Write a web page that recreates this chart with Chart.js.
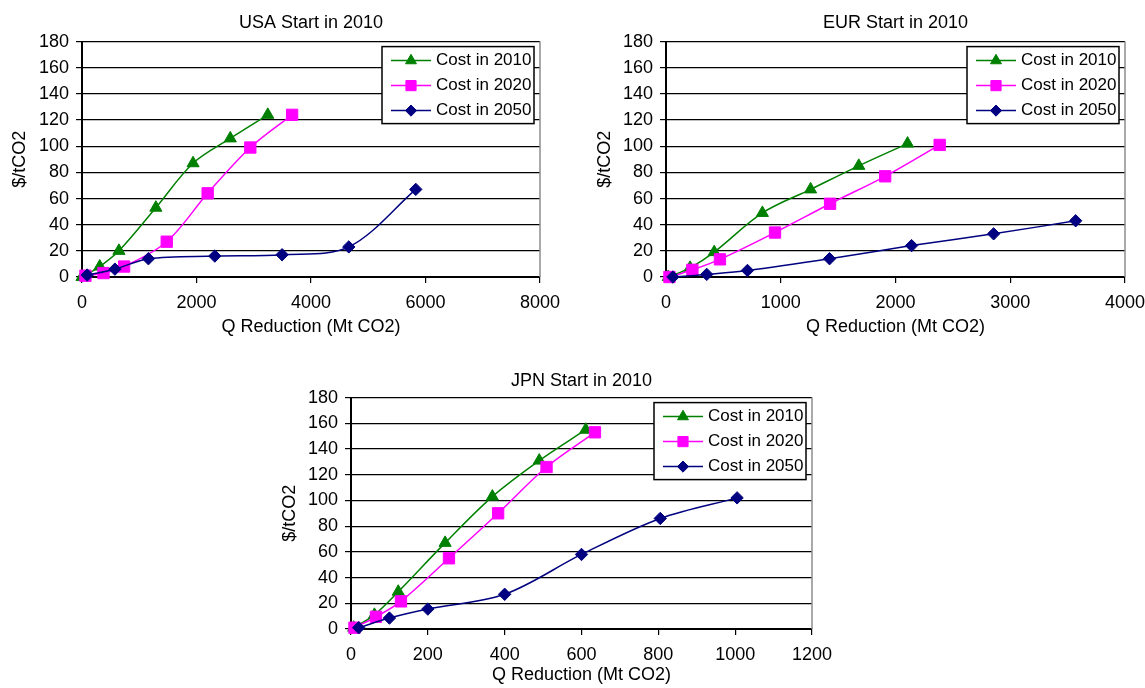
<!DOCTYPE html>
<html>
<head>
<meta charset="utf-8">
<script src="https://cdn.jsdelivr.net/npm/chart.js@4/dist/chart.umd.min.js"></script>
<style>
  html, body { margin: 0; padding: 0; background: #fff; overflow: hidden; }
  body { width: 1145px; height: 688px; position: relative; }
  canvas { position: absolute; }
</style>
</head>
<body>
<canvas id="usa" width="575" height="345" style="left:0px;top:0px"></canvas>
<canvas id="eur" width="575" height="345" style="left:585px;top:0px"></canvas>
<canvas id="jpn" width="577" height="331" style="left:270px;top:357px"></canvas>
<script>
// USA
const usaX2010 = [0, 310, 645, 1290, 1940, 2590, 3245];
const usaY2010 = [0, 8, 20, 53, 87, 106, 124];
const usaX2020 = [60, 375, 735, 1480, 2195, 2940, 3670];
const usaY2020 = [1, 3, 8, 27, 64, 99, 124];
const usaX2050 = [90, 575, 1160, 2320, 3495, 4660, 5830];
const usaY2050 = [1.5, 6, 14, 16, 17, 23, 67];

// EUR
const eurX2010 = [20, 210, 420, 840, 1260, 1680, 2105];
const eurY2010 = [0, 7, 19, 49, 67, 85, 102];
const eurX2020 = [30, 230, 470, 950, 1430, 1910, 2385];
const eurY2020 = [0, 5.5, 13.5, 34, 56, 77, 101];
const eurX2050 = [60, 355, 710, 1425, 2140, 2855, 3570];
const eurY2050 = [0, 2, 5, 14, 24, 33, 43];

// JPN
const jpnX2010 = [7, 61, 123, 245, 368, 490, 611];
const jpnY2010 = [1, 11, 29, 67, 103, 131, 155];
const jpnX2020 = [9, 65, 130, 255, 383, 509, 635];
const jpnY2020 = [1, 9.5, 21.5, 55, 90, 126, 153];
const jpnX2050 = [20, 100, 200, 400, 600, 805, 1005];
const jpnY2050 = [1, 8.5, 15.5, 27, 58, 86, 102];

const seriesNames = ['Cost in 2010', 'Cost in 2020', 'Cost in 2050'];
const yMax = 180, yStep = 20;

const FONT = "'Liberation Sans', Arial, sans-serif";

const pts = (xs, ys) => xs.map((x, i) => ({ x: x, y: ys[i] }));

// legend box drawn inside the plot area, Excel style
const boxLegend = {
  id: 'boxLegend',
  afterDatasetsDraw(chart) {
    const { ctx, chartArea: a } = chart;
    const w = 152, h = 77;
    const x0 = a.right - 6 - w, y0 = a.top + 5;
    ctx.save();
    ctx.fillStyle = '#fff';
    ctx.fillRect(x0, y0, w, h);
    ctx.strokeStyle = '#000';
    ctx.lineWidth = 1.5;
    ctx.strokeRect(x0, y0, w, h);
    chart.data.datasets.forEach((ds, i) => {
      const y = y0 + 14 + i * 25;
      ctx.strokeStyle = ds.borderColor;
      ctx.lineWidth = 1.5;
      ctx.beginPath();
      ctx.moveTo(x0 + 9, y);
      ctx.lineTo(x0 + 49, y);
      ctx.stroke();
      ctx.fillStyle = ds.backgroundColor;
      ctx.lineWidth = 1;
      Chart.helpers.drawPoint(ctx, { pointStyle: ds.pointStyle, radius: ds.pointRadius * 0.9, borderWidth: 1, rotation: 0 }, x0 + 29, y);
      ctx.fillStyle = '#000';
      ctx.font = '17px ' + FONT;
      ctx.textBaseline = 'middle';
      ctx.textAlign = 'left';
      ctx.fillText(ds.label, x0 + 54, y);
    });
    ctx.restore();
  }
};

// gray plot-area border on the right
const plotBorder = {
  id: 'plotBorder',
  beforeDatasetsDraw(chart) {
    const { ctx, chartArea: a } = chart;
    ctx.save();
    ctx.strokeStyle = '#8c8c8c';
    ctx.lineWidth = 1.5;
    ctx.beginPath();
    ctx.moveTo(a.right, a.top);
    ctx.lineTo(a.right, a.bottom);
    ctx.stroke();
    ctx.restore();
  }
};

function makeChart(id, title, xMax, xStep, s2010, s2020, s2050, lay) {
  const mk = (label, data, color, style, radius, order) => ({
    label: label,
    data: data,
    borderColor: color,
    backgroundColor: color,
    borderWidth: 1.5,
    pointStyle: style,
    pointRadius: radius,
    pointBorderWidth: 1,
    tension: 0.33,
    clip: false,
    order: order,
  });

  new Chart(document.getElementById(id), {
    type: 'line',
    data: {
      datasets: [
        mk(seriesNames[0], s2010, '#008000', 'triangle', 7, 3),
        mk(seriesNames[1], s2020, '#ff00ff', 'rect', 8, 2),
        mk(seriesNames[2], s2050, '#000080', 'rectRot', 6.2, 1),
      ],
    },
    options: {
      responsive: false,
      animation: false,
      layout: { padding: { left: 0, right: lay.right, top: 0, bottom: lay.bottom } },
      plugins: {
        legend: { display: false },
        tooltip: { enabled: false },
        title: {
          display: true,
          text: title,
          fullSize: false,
          color: '#000',
          font: { family: FONT, size: 18, weight: 'normal' },
          padding: { top: lay.titleTop, bottom: lay.titleBottom },
        },
      },
      scales: {
        x: {
          type: 'linear',
          min: 0,
          max: xMax,
          afterFit: (s) => { s.height = lay.xHeight; },
          ticks: {
            stepSize: xStep, color: '#000', padding: 9, maxRotation: 0,
            font: { family: FONT, size: 18 },
            callback: (v) => String(v),
          },
          grid: { drawOnChartArea: false, color: '#000', tickLength: 6, lineWidth: 1.2 },
          border: { color: '#000', width: 2 },
          title: { display: true, text: 'Q Reduction (Mt CO2)', color: '#000', font: { family: FONT, size: 18 }, padding: { top: 0, bottom: 2 } },
        },
        y: {
          min: 0,
          max: yMax,
          afterFit: (s) => { s.width = lay.yWidth; },
          ticks: { stepSize: yStep, color: '#000', padding: 7, font: { family: FONT, size: 18 } },
          grid: { color: '#000', tickLength: 6, lineWidth: 1.2 },
          border: { color: '#000', width: 2 },
          title: { display: true, text: '$/tCO2', color: '#000', font: { family: FONT, size: 18 }, padding: { top: 9, bottom: 0 } },
        },
      },
    },
    plugins: [plotBorder, boxLegend],
  });
}

makeChart('usa', 'USA Start in 2010', 8000, 2000,
  pts(usaX2010, usaY2010), pts(usaX2020, usaY2020), pts(usaX2050, usaY2050),
  { right: 35, bottom: 5, yWidth: 82, xHeight: 63, titleTop: 12, titleBottom: 8 });

makeChart('eur', 'EUR Start in 2010', 4000, 1000,
  pts(eurX2010, eurY2010), pts(eurX2020, eurY2020), pts(eurX2050, eurY2050),
  { right: 35, bottom: 5, yWidth: 81, xHeight: 63, titleTop: 12, titleBottom: 8 });

makeChart('jpn', 'JPN Start in 2010', 1200, 200,
  pts(jpnX2010, jpnY2010), pts(jpnX2020, jpnY2020), pts(jpnX2050, jpnY2050),
  { right: 35, bottom: 0, yWidth: 81, xHeight: 59, titleTop: 13, titleBottom: 6 });
</script>
</body>
</html>
